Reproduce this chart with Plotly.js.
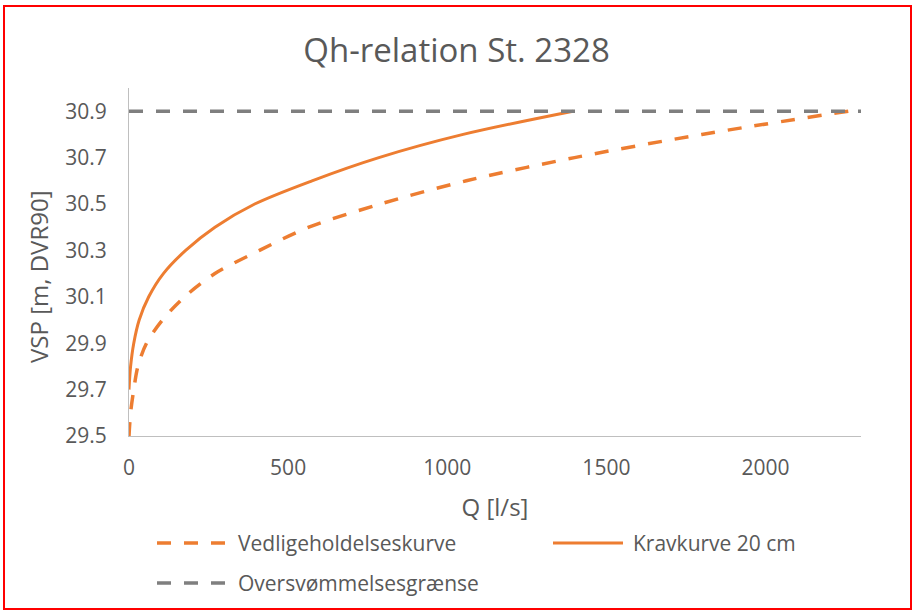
<!DOCTYPE html>
<html>
<head>
<meta charset="utf-8">
<script src="https://cdn.plot.ly/plotly-3.0.1.min.js"></script>
<style>
  html, body { margin: 0; padding: 0; background: #fff; }
  #chart { position: absolute; left: 0; top: 0; width: 913px; height: 613px; }
  #frame { position: absolute; left: 3px; top: 5px; width: 905px; height: 601px; border: 2px solid #FF0000; pointer-events: none; }
</style>
</head>
<body>
<div id="chart"></div>
<div id="frame"></div>
<script>
// Vedligeholdelseskurve (dashed orange)
const vedligeQ = [0, 5, 15, 28, 55, 105, 175, 270, 410, 565, 790, 1060, 1400, 1800, 2260];
const vedligeH = [29.5, 29.6, 29.7, 29.8, 29.9, 30.0, 30.1, 30.2, 30.3, 30.4, 30.5, 30.6, 30.7, 30.8, 30.9];
// Kravkurve 20 cm (solid orange)
const kravQ = [0, 5, 15, 32, 62, 108, 178, 270, 395, 575, 785, 1050, 1395];
const kravH = [29.7, 29.8, 29.9, 30.0, 30.1, 30.2, 30.3, 30.4, 30.5, 30.6, 30.7, 30.8, 30.9];
// Oversvømmelsesgrænse (dashed grey)
const graenseQ = [0, 2300];
const graenseH = [30.9, 30.9];

const titleText = 'Qh-relation St. 2328';
const xTitle = 'Q [l/s]';
const yTitle = 'VSP [m, DVR90]';
const seriesNames = ['Vedligeholdelseskurve', 'Kravkurve 20 cm', 'Oversvømmelsesgrænse'];
const xTicks = [0, 500, 1000, 1500, 2000];
const yTicks = [29.5, 29.7, 29.9, 30.1, 30.3, 30.5, 30.7, 30.9];

const FONT = "'Open Sans', 'Noto Sans', sans-serif";
const TXT = '#595959';
const ORANGE = '#ED7D31';
const GREY = '#7F7F7F';
const DASH = '14px,13px';

const styles = [
  { color: ORANGE, width: 3.5, dash: DASH },
  { color: ORANGE, width: 3, dash: 'solid' },
  { color: GREY, width: 3.5, dash: DASH }
];

const traces = [
  { x: vedligeQ, y: vedligeH, name: seriesNames[0], mode: 'lines', type: 'scatter',
    line: Object.assign({ shape: 'spline', smoothing: 0.9 }, styles[0]) },
  { x: kravQ, y: kravH, name: seriesNames[1], mode: 'lines', type: 'scatter',
    line: Object.assign({ shape: 'spline', smoothing: 0.9 }, styles[1]) },
  { x: graenseQ, y: graenseH, name: seriesNames[2], mode: 'lines', type: 'scatter', line: styles[2] }
];

// Plot area in pixels (for placing the Excel-style legend below the chart)
const W = 913, H = 613;
const M = { l: 129, r: 52, t: 88, b: 177 };
const PW = W - M.l - M.r, PH = H - M.t - M.b;
const px2x = p => (p - M.l) / PW;
const px2y = p => (H - M.b - p) / PH;

// Legend entries: [lineStartPx, lineEndPx, textPx, rowPx]
const legendPos = [[157, 226, 236, 543], [553, 623, 631, 543], [157, 226, 236, 583]];
const shapes = [], annotations = [];
legendPos.forEach((p, i) => {
  shapes.push({ type: 'line', xref: 'paper', yref: 'paper',
    x0: px2x(p[0]), x1: px2x(p[1]), y0: px2y(p[3]), y1: px2y(p[3]), line: styles[i] });
  annotations.push({ xref: 'paper', yref: 'paper', x: px2x(p[2]), y: px2y(p[3]),
    xanchor: 'left', yanchor: 'middle', text: seriesNames[i], showarrow: false,
    font: { family: FONT, size: 21, color: TXT } });
});
// Y-axis title (Excel places it slightly below the plot-area centre)
annotations.push({ xref: 'paper', yref: 'paper', x: px2x(38), y: px2y(277),
  xanchor: 'center', yanchor: 'middle', textangle: -90, text: yTitle, showarrow: false,
  font: { family: FONT, size: 24, color: TXT } });

const layout = {
  width: W, height: H,
  paper_bgcolor: '#fff', plot_bgcolor: '#fff',
  margin: M,
  font: { family: FONT, color: TXT },
  showlegend: false,
  title: { text: titleText, x: 0.5, xanchor: 'center', y: 1 - 50 / H, yanchor: 'middle',
           font: { family: FONT, size: 33, color: TXT } },
  xaxis: {
    range: [0, 2300], tickvals: xTicks, ticktext: xTicks.map(String),
    showgrid: false, zeroline: false, showline: true, linecolor: '#BFBFBF', linewidth: 1,
    ticks: '', ticklabelstandoff: 13,
    tickfont: { family: FONT, size: 21, color: TXT },
    title: { text: xTitle, font: { family: FONT, size: 24, color: TXT }, standoff: 18 },
    fixedrange: true
  },
  yaxis: {
    range: [29.5, 31.0], tickvals: yTicks, ticktext: yTicks.map(v => v.toFixed(1)),
    showgrid: false, zeroline: false, showline: true, linecolor: '#BFBFBF', linewidth: 1,
    ticks: '', ticklabelstandoff: 17,
    tickfont: { family: FONT, size: 21, color: TXT },
    fixedrange: true
  },
  shapes: shapes,
  annotations: annotations
};

Plotly.newPlot('chart', traces, layout, { displayModeBar: false, staticPlot: true });
</script>
</body>
</html>
